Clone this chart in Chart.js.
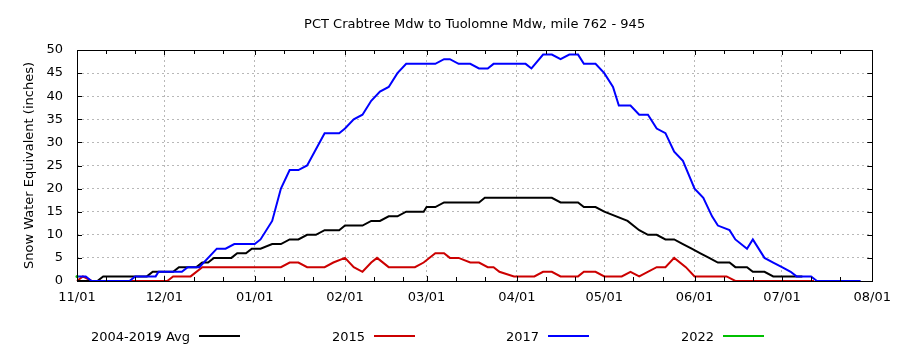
<!DOCTYPE html>
<html>
<head>
<meta charset="utf-8">
<script src="https://cdn.jsdelivr.net/npm/chart.js@4"></script>
<style>
  html, body { margin: 0; padding: 0; background: #fff; }
  #wrap { position: relative; width: 900px; height: 350px; font-family: 'DejaVu Sans', sans-serif; }
  canvas { position: absolute; left: 0; top: 0; }
  .leg { position: absolute; top: 327px; height: 18px; display: flex; align-items: center; font-size: 13px; color: #000; white-space: nowrap; }
  .leg .ln { display: inline-block; width: 41px; height: 2px; margin-left: 9px; }
</style>
</head>
<body>
<div id="wrap">
  <canvas id="c" width="900" height="350"></canvas>
  <div id="legend"></div>
</div>
<script>
// ---- axis / tick data ----
const monthStartDays = [0, 30, 61, 92, 120, 151, 181, 212, 242, 273];
const monthLabels = ['11/01', '12/01', '01/01', '02/01', '03/01', '04/01', '05/01', '06/01', '07/01', '08/01'];
const seriesNames = ['2004-2019 Avg', '2015', '2017', '2022'];

// ---- series data (day index from 11/01, inches) ----
const avgDays = [0,7,9,24,26,33,35,41,43,45,47,53,55,58,60,63,67,70,73,76,79,82,85,90,92,98,101,104,107,110,113,119,120,123,126,138,140,163,166,172,174,178,181,189,193,196,199,202,205,208,211,214,217,220,224,226,230,232,236,239,249];
const avgValues = [0,0,1,1,2,2,3,3,4,4,5,5,6,6,7,7,8,8,9,9,10,10,11,11,12,12,13,13,14,14,15,15,16,16,17,17,18,18,17,17,16,16,15,13,11,10,10,9,9,8,7,6,5,4,4,3,3,2,2,1,1];

const y2015Days = [0,2,5,31,33,39,43,70,73,76,79,85,88,92,95,98,101,103,107,116,119,123,126,128,131,135,138,141,143,145,150,157,160,163,166,172,174,178,181,187,190,193,199,202,205,209,212,223,226,253];
const y2015Values = [0,1,0,0,1,1,3,3,4,4,3,3,4,5,3,2,4,5,3,3,4,6,6,5,5,4,4,3,3,2,1,1,2,2,1,1,2,2,1,1,2,1,3,3,5,3,1,1,0,0];

const y2017Days = [0,3,5,18,20,27,28,36,38,42,48,51,54,61,63,67,70,73,76,79,85,90,92,95,98,101,104,107,110,113,123,126,128,131,135,138,141,143,154,156,160,163,166,169,172,174,178,181,184,186,190,193,196,199,202,205,208,212,215,218,220,224,226,230,232,236,239,242,245,247,252,254,269];
const y2017Values = [1,1,0,0,1,1,2,2,3,3,7,7,8,8,9,13,20,24,24,25,32,32,33,35,36,39,41,42,45,47,47,48,48,47,47,46,46,47,47,46,49,49,48,49,49,47,47,45,42,38,38,36,36,33,32,28,26,20,18,14,12,11,9,7,9,5,4,3,2,1,1,0,0];

const y2022Days = [0];
const y2022Values = [1];

const seriesColors = ['#000000', '#cc0000', '#0000ff', '#00c000'];

const pts = (d, v) => d.map((x, i) => ({ x: x, y: v[i] }));

Chart.defaults.font.family = "'DejaVu Sans', sans-serif";
Chart.defaults.font.size = 13;
Chart.defaults.color = '#000';

const framePlugin = {
  id: 'frame',
  afterDatasetsDraw(chart) {
    const { ctx, chartArea: { left, right, top, bottom }, scales: { x, y } } = chart;
    ctx.save();
    ctx.strokeStyle = '#000';
    ctx.lineWidth = 1;
    ctx.beginPath();
    y.ticks.forEach(t => {
      const py = Math.round(y.getPixelForValue(t.value)) + 0.5;
      ctx.moveTo(left, py); ctx.lineTo(left + 5, py);
      ctx.moveTo(right, py); ctx.lineTo(right - 5, py);
    });
    monthStartDays.forEach((d, i) => {
      const marks = [[d, 5]];
      if (i < monthStartDays.length - 1) { marks.push([d + 10, 4], [d + 20, 4]); }
      marks.forEach(([v, len]) => {
        const px = Math.round(x.getPixelForValue(v)) + 0.5;
        ctx.moveTo(px, bottom); ctx.lineTo(px, bottom - len);
        ctx.moveTo(px, top); ctx.lineTo(px, top + len);
      });
    });
    ctx.stroke();
    ctx.strokeRect(Math.round(left) + 0.5, Math.round(top) + 0.5, Math.round(right - left), Math.round(bottom - top));
    ctx.restore();
  }
};

const mk = (i, d, v, order) => ({
  label: seriesNames[i],
  data: pts(d, v),
  borderColor: seriesColors[i],
  backgroundColor: seriesColors[i],
  borderWidth: 2,
  pointRadius: d.length === 1 ? 1.5 : 0,
  pointBorderWidth: 0,
  tension: 0,
  fill: false,
  order: order,
  clip: false
});

new Chart(document.getElementById('c'), {
  type: 'line',
  data: {
    datasets: [
      mk(0, avgDays, avgValues, 1),
      mk(1, y2015Days, y2015Values, 2),
      mk(2, y2017Days, y2017Values, 0),
      mk(3, y2022Days, y2022Values, -1)
    ]
  },
  options: {
    responsive: false,
    animation: false,
    layout: { padding: { left: 0, right: 23, top: 0, bottom: 0 } },
    plugins: {
      legend: { display: false },
      tooltip: { enabled: false },
      title: {
        display: true,
        text: 'PCT Crabtree Mdw to Tuolomne Mdw, mile 762 - 945',
        font: { size: 13, weight: 'normal' },
        color: '#000',
        fullSize: false,
        padding: { top: 17, bottom: 17.4 }
      }
    },
    scales: {
      x: {
        type: 'linear',
        min: 0,
        max: 273,
        afterBuildTicks: s => { s.ticks = monthStartDays.map(v => ({ value: v })); },
        ticks: {
          callback: (v, i) => monthLabels[i],
          padding: 9,
          maxRotation: 0,
          autoSkip: false,
          color: '#000'
        },
        grid: { color: '#b8b8b8', drawTicks: false, lineWidth: 1 },
        border: { display: false, dash: [2, 3] },
        afterFit: s => { s.height = 69; }
      },
      y: {
        min: 0,
        max: 50,
        ticks: { stepSize: 5, padding: 14, color: '#000' },
        grid: { color: '#b8b8b8', drawTicks: false, lineWidth: 1 },
        border: { display: false, dash: [2, 3] },
        title: {
          display: true,
          text: 'Snow Water Equivalent (inches)',
          font: { size: 13 },
          color: '#000',
          padding: { top: 22, bottom: 0 }
        },
        afterFit: s => { s.width = 77; }
      }
    }
  },
  plugins: [framePlugin]
});

// HTML legend (text followed by line sample)
const legendEnds = [240, 415, 589, 764];
const legendEl = document.getElementById('legend');
seriesNames.forEach((name, i) => {
  const item = document.createElement('div');
  item.className = 'leg';
  item.style.right = (900 - legendEnds[i]) + 'px';
  const t = document.createElement('span');
  t.textContent = name;
  const l = document.createElement('span');
  l.className = 'ln';
  l.style.background = seriesColors[i];
  item.appendChild(t);
  item.appendChild(l);
  legendEl.appendChild(item);
});
</script>
</body>
</html>
